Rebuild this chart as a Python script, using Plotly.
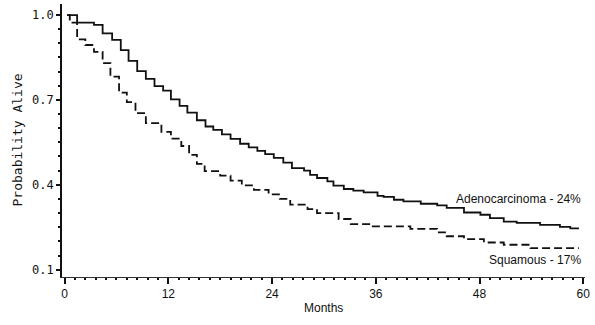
import plotly.graph_objects as go

# Adenocarcinoma (solid) step curve: change times (months) and survival after each change
adeno_months = [0.3, 1.45, 3.4, 4.4, 5.5, 6.5, 7.4, 8.4, 9.4, 10.4, 11.4, 12.3, 13.3, 14.2,
                15.3, 16.3, 17.2, 18.2, 19.2, 20.3, 21.3, 22.3, 23.2, 24.2, 25.3, 26.3,
                27.7, 28.4, 29.2, 30.4, 31.1, 32.3, 33.4, 34.6, 36.2, 36.9, 38.1, 39.2,
                41.2, 43.1, 44.2, 46.2, 48.1, 49.2, 50.8, 52.3, 55.0, 57.3, 58.5, 59.5]
adeno_surv = [1.0, 0.973, 0.965, 0.935, 0.912, 0.876, 0.838, 0.802, 0.774, 0.749, 0.733, 0.702,
              0.679, 0.655, 0.628, 0.606, 0.594, 0.578, 0.562, 0.545, 0.532, 0.520, 0.508,
              0.495, 0.478, 0.459, 0.450, 0.435, 0.424, 0.412, 0.397, 0.385, 0.379, 0.373,
              0.361, 0.357, 0.347, 0.341, 0.333, 0.327, 0.318, 0.302, 0.294, 0.282, 0.270,
              0.265, 0.258, 0.251, 0.246, 0.246]

# Squamous (dashed) step curve
squam_months = [0.3, 0.6, 1.45, 2.4, 3.4, 4.4, 5.3, 6.3, 7.2, 8.2, 9.4, 11.2, 12.3, 13.5,
                14.4, 15.3, 16.2, 18.0, 19.2, 20.5, 21.9, 23.6, 24.9, 26.1, 28.1, 29.2,
                31.7, 33.1, 35.4, 40.0, 43.1, 44.2, 46.2, 48.5, 50.8, 53.9, 59.5]
squam_surv = [1.0, 0.973, 0.914, 0.894, 0.870, 0.830, 0.782, 0.726, 0.692, 0.653, 0.618,
              0.587, 0.563, 0.537, 0.506, 0.474, 0.448, 0.432, 0.415, 0.398, 0.382, 0.366,
              0.350, 0.330, 0.314, 0.300, 0.279, 0.261, 0.253, 0.244, 0.232, 0.218, 0.208,
              0.196, 0.188, 0.176, 0.176]

series_labels = ["Adenocarcinoma - 24%", "Squamous - 17%"]
x_title = "Months"
y_title = "Probability Alive"

fig = go.Figure()
fig.add_trace(go.Scatter(x=adeno_months, y=adeno_surv, mode="lines", line_shape="hv",
                         line=dict(color="#111", width=1.8), showlegend=False))
fig.add_trace(go.Scatter(x=squam_months, y=squam_surv, mode="lines", line_shape="hv",
                         line=dict(color="#111", width=1.8, dash="8px,4px"), showlegend=False))

fig.update_layout(
    width=595, height=325,
    margin=dict(l=62, r=10, t=4, b=48),
    plot_bgcolor="white", paper_bgcolor="white",
    font=dict(family="Liberation Sans, Arial, sans-serif", size=12, color="#111"),
)
fig.update_xaxes(
    range=[-0.3, 60.2], showgrid=False, zeroline=False,
    showline=True, linecolor="#333", linewidth=1,
    tickmode="linear", tick0=0, dtick=12, ticks="outside", ticklen=6, tickwidth=1.5,
    tickcolor="#111",
    minor=dict(dtick=1.2, tick0=0, ticks="outside", ticklen=2, tickwidth=1.5, tickcolor="#111"),
    tickfont=dict(family="Liberation Sans, Arial, sans-serif", size=12, color="#111"),
)
fig.update_yaxes(
    range=[0.074, 1.039], showgrid=False, zeroline=False,
    showline=True, linecolor="#111", linewidth=1.6,
    tickmode="linear", tick0=0.1, dtick=0.3, tickformat=".1f",
    ticks="outside", ticklen=4, tickwidth=1.5, tickcolor="#111",
    minor=dict(dtick=0.05, tick0=0.1, ticks="outside", ticklen=2, tickwidth=1.5, tickcolor="#111"),
    tickfont=dict(family="DejaVu Sans Mono, monospace", size=12, color="#111"),
)

fig.add_annotation(text=series_labels[0], x=60, y=0.35, xref="x", yref="y",
                   xanchor="right", yanchor="middle", showarrow=False,
                   font=dict(size=12, color="#111"))
fig.add_annotation(text=series_labels[1], x=60, y=0.134, xref="x", yref="y",
                   xanchor="right", yanchor="middle", showarrow=False,
                   font=dict(size=12, color="#111"))
fig.add_annotation(text=x_title, x=0.5, y=0, xref="paper", yref="paper",
                   yshift=-31, xanchor="center", yanchor="middle", showarrow=False,
                   font=dict(size=12, color="#111"))
fig.add_annotation(text=y_title, x=0, y=0.5, xref="paper", yref="paper",
                   xshift=-45, xanchor="center", yanchor="middle", textangle=-90,
                   showarrow=False,
                   font=dict(family="DejaVu Sans Mono, monospace", size=13, color="#111"))

fig.write_html("out.html")
